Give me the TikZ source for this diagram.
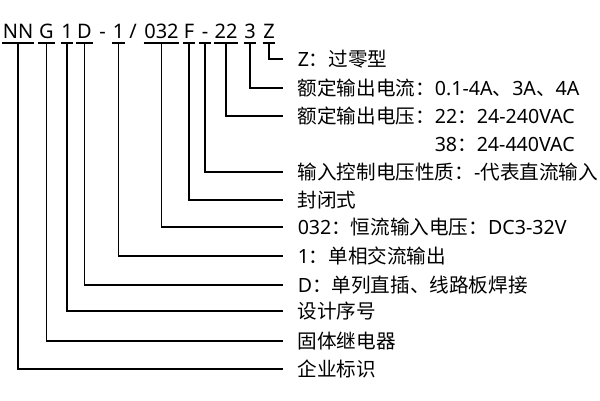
\documentclass[tikz,border=0pt]{standalone}
\usepackage{fontspec}
\setmainfont{Noto Sans}
\newfontfamily\cjk{Noto Sans CJK SC}
\newcommand{\cn}[1]{{\cjk #1}}

\begin{document}
\begin{tikzpicture}[x=1pt,y=-1pt,line width=1.5pt,
  code/.style={anchor=base,inner xsep=0pt,inner ysep=4pt,text depth=0pt,font=\fontsize{20}{24}\selectfont},
  lab/.style={anchor=west,inner xsep=14pt,inner ysep=0pt,text height=18pt,text depth=4pt,font=\fontsize{19.6}{24}\selectfont}]
\useasboundingbox (0,0) rectangle (600,400);

\node[code] (1) at (18,38) {NN};
\node[code] (2) at (46.5,38) {G};
\node[code] (3) at (67,38) {1};
\node[code] (4) at (84.5,38) {D};
\node[code] (s1) at (102.5,38) {-};
\node[code] (5) at (118.5,38) {1};
\node[code] (s2) at (133,38) {/};
\node[code] (6) at (161.5,38) {032};
\node[code] (7) at (189,38) {F};
\node[code,minimum width=10pt] (8) at (205,38) {-};
\node[code] (9) at (226,38) {22};
\node[code] (10) at (250,38) {3};
\node[code] (11) at (269,38) {Z};

\node[lab] (t11) at (283,59) {Z\cn{：过零型}};
\node[lab] (t10) at (283,88) {\cn{额定输出电流：}0.1-4A\cn{、}3A\cn{、}4A};
\node[lab] (t9) at (283,116) {\cn{额定输出电压：}22\cn{：}24-240VAC};
\node[lab,inner xsep=0pt] (t9b) at (434,144) {38\cn{：}24-440VAC};
\node[lab] (t8) at (283,172) {\cn{输入控制电压性质：}-\cn{代表直流输入}};
\node[lab] (t7) at (283,200) {\cn{封闭式}};
\node[lab] (t6) at (283,227) {032\cn{：恒流输入电压：}DC3-32V};
\node[lab] (t5) at (283,256) {1\cn{：单相交流输出}};
\node[lab] (t4) at (283,285) {D\cn{：单列直插、线路板焊接}};
\node[lab] (t3) at (283,311) {\cn{设计序号}};
\node[lab] (t2) at (283,341) {\cn{固体继电器}};
\node[lab] (t1) at (283,369) {\cn{企业标识}};

\foreach \i in {1,...,11}
  \draw (\i.south west) -- (\i.south east);
\foreach \i in {1,...,11}
  \draw (\i.south) |- (t\i.west);

\end{tikzpicture}
\end{document}
